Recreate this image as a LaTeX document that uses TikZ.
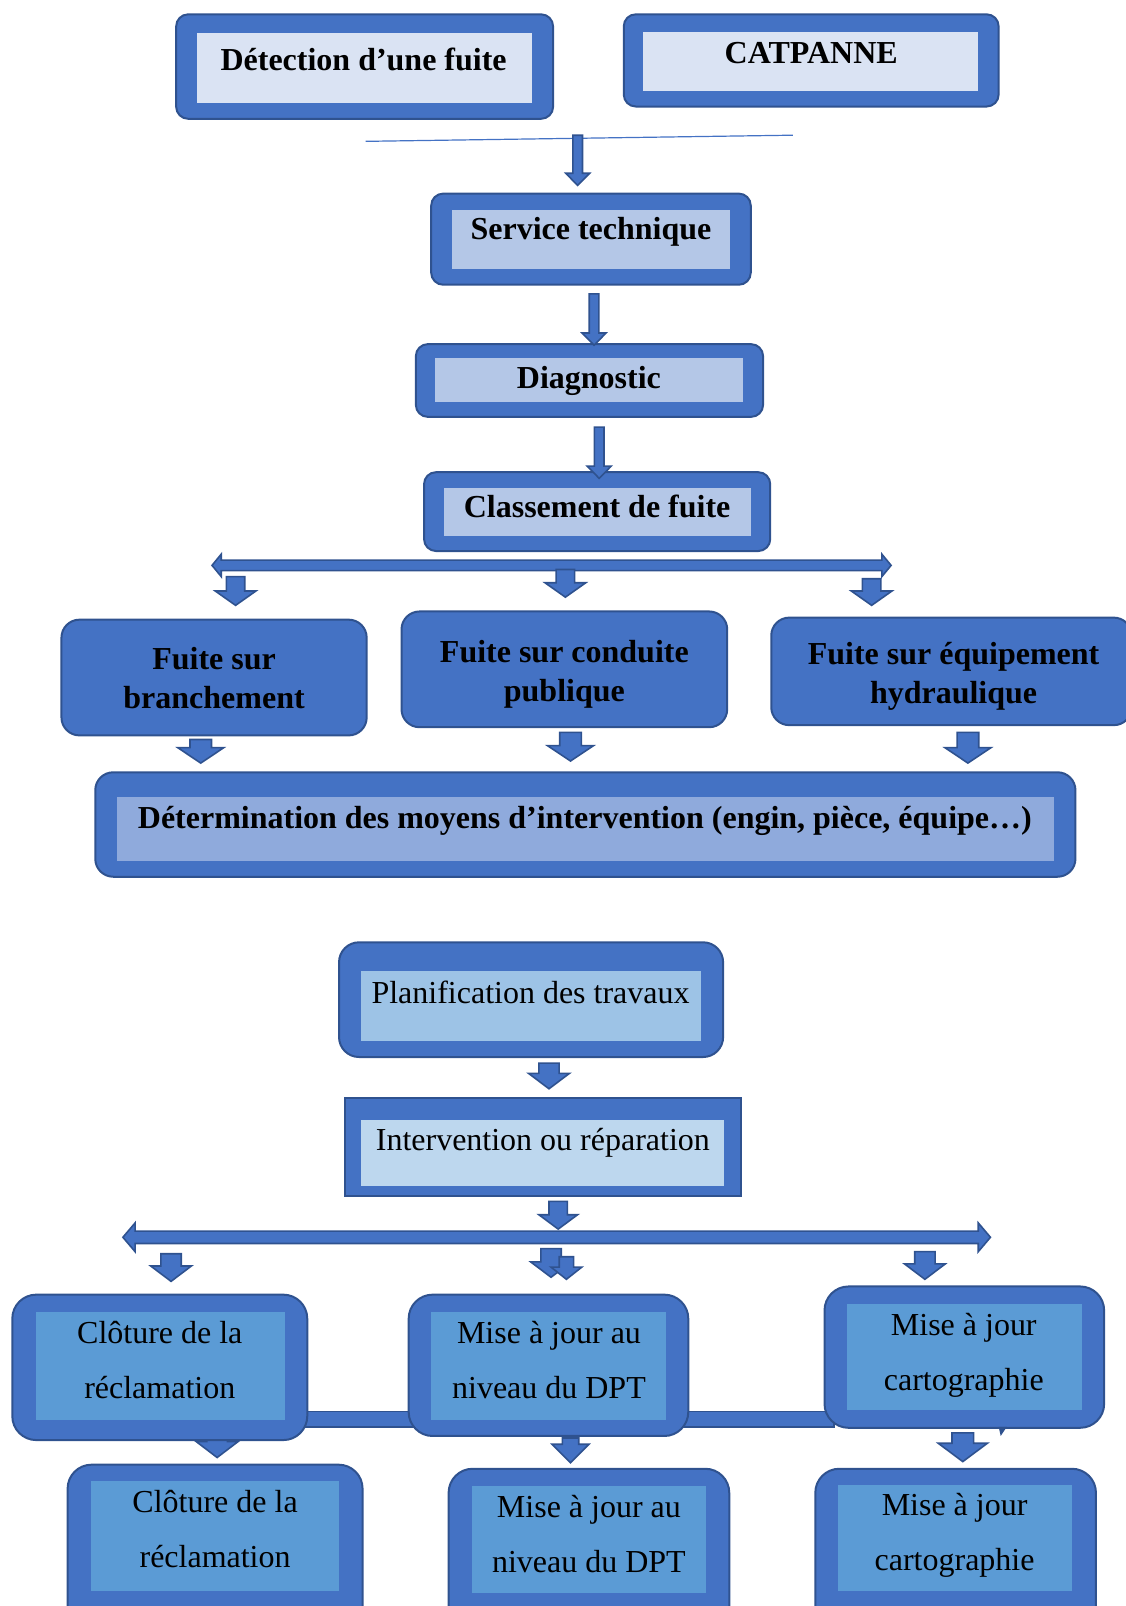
\documentclass[tikz,border=0pt]{standalone}
\usepackage{fontspec}
\setmainfont{Liberation Serif}
\usetikzlibrary{calc,fit}
\definecolor{boxblue}{HTML}{4472C4}
\definecolor{edge}{HTML}{2F528F}
\definecolor{pale}{HTML}{DAE3F3}
\definecolor{soft}{HTML}{B4C7E7}
\definecolor{mid}{HTML}{8FAADC}
\definecolor{sky}{HTML}{9DC3E6}
\definecolor{mist}{HTML}{BDD7EE}
\definecolor{deep}{HTML}{5B9BD5}
\pgfdeclarelayer{back}
\pgfsetlayers{back,main}
\tikzset{
  frame/.style={draw=edge, fill=boxblue, line width=1pt, rounded corners=#1, inner sep=0pt},
  frame/.default=6pt,
  pane/.style={fill=#1, inner sep=0pt},
  title/.style={font=\fontsize{16}{19.5}\selectfont\bfseries, align=center, inner sep=0pt},
  plain/.style={font=\fontsize{16}{27.7}\selectfont, align=center, inner sep=0pt},
  blk/.style={draw=edge, fill=boxblue, line width=0.8pt, line join=miter},
  rule/.style={draw=boxblue, line width=0.6pt}
}
% vertical block arrow: from, to, half shaft, half head, head length
\newcommand{\downblock}[5]{%
  \filldraw[blk] let \p1=(#1), \p2=(#2) in
    (\x1-#3,\y1) -- (\x1+#3,\y1) -- (\x1+#3,\y2+#5) -- (\x1+#4,\y2+#5)
    -- (\x1,\y2) -- (\x1-#4,\y2+#5) -- (\x1-#3,\y2+#5) -- cycle;}
% horizontal block arrow with two heads
\newcommand{\sideblock}[5]{%
  \filldraw[blk] let \p1=(#1), \p2=(#2) in
    (\x1,\y1) -- (\x1+#5,\y1+#4) -- (\x1+#5,\y1+#3) -- (\x2-#5,\y1+#3)
    -- (\x2-#5,\y1+#4) -- (\x2,\y1) -- (\x2-#5,\y1-#4) -- (\x2-#5,\y1-#3)
    -- (\x1+#5,\y1-#3) -- (\x1+#5,\y1-#4) -- cycle;}

\begin{document}
\begin{tikzpicture}[x=0.5123pt, y=-0.5123pt]
  \useasboundingbox (0,0) rectangle (1099,1568);

  \node[frame, fit={(172,14) (540,116)}] (detect) {};
  \node[pane=pale, fit={(192,32) (519,101)}] (detect-in) {};
  \node[title] (detect-t) at (355,58) {Détection d’une fuite};

  \node[frame, fit={(609,14) (975,104)}] (catp) {};
  \node[pane=pale, fit={(628,31) (955,89)}] (catp-in) {};
  \node[title] (catp-t) at (792,52) {CATPANNE};

  \coordinate (wire-l) at (357,138);
  \coordinate (wire-r) at (774,132);
  \draw[rule] (wire-l) -- (wire-r);

  \node[frame, fit={(421,189) (733,278)}] (serv) {};
  \node[pane=soft, fit={(441,205) (713,263)}] (serv-in) {};
  \node[title] (serv-t) at (577,226) {Service technique};

  \node[frame, fit={(406,336) (745,407)}] (diag) {};
  \node[pane=soft, fit={(425,350) (725,392)}] (diag-in) {};
  \node[title] (diag-t) at (575,372) {Diagnostic};

  \node[frame, fit={(414,461) (752,538)}] (class) {};
  \node[pane=soft, fit={(433,476) (733,523)}] (class-in) {};
  \node[title] (class-t) at (583,494) {Classement de fuite};

  \downblock{$(serv.north)+(-13,-56)$}{$(serv.north)+(0,-7)$}{2.4pt}{6pt}{6.1pt}
  \downblock{$(serv.south)+(3,8)$}{$(diag.north)+(0,2)$}{2.4pt}{6pt}{6.1pt}
  \downblock{$(diag.south)+(9.5,9)$}{$(class.north)+(0,7)$}{2.4pt}{6pt}{6.1pt}

  \coordinate (fork-l) at (207,552);
  \coordinate (fork-r) at (870,552);
  \sideblock{fork-l}{fork-r}{2.6pt}{5.6pt}{4.6pt}

  \node[frame=9pt, fit={(60,605) (358,718)}] (fb) {};
  \node[title] (fb-t) at (209,662) {Fuite sur\\branchement};
  \node[frame=9pt, fit={(392,597) (710,710)}] (fc) {};
  \node[title] (fc-t) at (551,658) {Fuite sur conduite\\publique};
  \node[frame=9pt, fit={(753,603) (1105,708)}] (fe) {};
  \node[title] (fe-t) at (931,660) {Fuite sur équipement\\hydraulique};

  \downblock{$(fb.north)+(21,-41)$}{$(fb.north)+(0,-13)$}{4.6pt}{10.2pt}{7.2pt}
  \downblock{$(fc.north)+(1,-40)$}{$(fc.north)+(0,-13)$}{4.6pt}{10.2pt}{7.2pt}
  \downblock{$(fe.north)+(-78,-37)$}{$(fe.north)+(0,-11)$}{4.6pt}{10.2pt}{7.2pt}

  \node[frame=9pt, fit={(93,754) (1050,856)}] (determ) {};
  \node[pane=mid, fit={(114,778) (1029,841)}] (determ-in) {};
  \node[title] (determ-t) at (571,801) {Détermination des moyens d’intervention (engin, pièce, équipe…)};

  \downblock{$(fb.south)+(-13,3)$}{$(determ.north)+(0,-8)$}{5.4pt}{11.5pt}{7.7pt}
  \downblock{$(fc.south)+(6,4)$}{$(determ.north)+(0,-10)$}{5.4pt}{11.5pt}{7.7pt}
  \downblock{$(fe.south)+(16,6)$}{$(determ.north)+(0,-8)$}{5.4pt}{11.5pt}{7.7pt}

  \node[frame=10pt, fit={(331,920) (706,1032)}] (plan) {};
  \node[pane=sky, fit={(352,948) (684,1016)}] (plan-in) {};
  \node[plain] (plan-t) at (518,969) {Planification des travaux};

  \node[frame=0pt, fit={(337,1072) (723,1168)}] (interv) {};
  \node[pane=mist, fit={(352,1093) (707,1158)}] (interv-in) {};
  \node[plain] (interv-t) at (530,1116) {Intervention ou réparation};

  \downblock{$(plan.south)+(17.5,5)$}{$(interv.north)+(0,-8)$}{5.1pt}{10.2pt}{7.7pt}

  \coordinate (join-l) at (120,1208);
  \coordinate (join-r) at (967,1208);
  \downblock{$(interv.south)+(15,4)$}{$(join-l)+(0,-8)$}{4.6pt}{9.7pt}{7.2pt}
  \sideblock{join-l}{join-r}{3.1pt}{7.2pt}{6.1pt}

  \node[frame=12pt, fit={(12,1264) (300,1406)}] (clo1) {};
  \node[pane=deep, fit={(35,1281) (278,1386)}] (clo1-in) {};
  \node[plain] (clo1-t) at (156,1328) {Clôture de la\\réclamation};

  \node[frame=12pt, fit={(399,1264) (672,1402)}] (dpt1) {};
  \node[pane=deep, fit={(421,1281) (650,1386)}] (dpt1-in) {};
  \node[plain] (dpt1-t) at (536,1328) {Mise à jour au\\niveau du DPT};

  \node[frame=12pt, fit={(805,1256) (1078,1394)}] (carto1) {};
  \node[pane=deep, fit={(827,1273) (1056,1377)}] (carto1-in) {};
  \node[plain] (carto1-t) at (941,1323) {Mise à jour\\cartographie};
  \fill[edge] (975,1393) -- (983,1393) -- (977,1402) -- cycle;

  \downblock{$(clo1.north)+(11,-39)$}{$(clo1.north)+(0,-12)$}{5.1pt}{10.2pt}{7.7pt}
  \downblock{$(dpt1.north)+(2.5,-44)$}{$(dpt1.north)+(0,-16)$}{5.1pt}{10.2pt}{7.7pt}
  \downblock{$(dpt1.north)+(17.5,-36)$}{$(dpt1.north)+(0,-14)$}{3.6pt}{7.7pt}{6.1pt}
  \downblock{$(carto1.north)+(-38.5,-33)$}{$(carto1.north)+(0,-6)$}{5.1pt}{10.2pt}{7.7pt}

  \node[frame=12pt, fit={(66,1430) (354,1600)}] (clo2) {};
  \node[pane=deep, fit={(89,1446) (331,1553)}] (clo2-in) {};
  \node[plain] (clo2-t) at (210,1493) {Clôture de la\\réclamation};

  \node[frame=12pt, fit={(438,1434) (712,1600)}] (dpt2) {};
  \node[pane=deep, fit={(461,1451) (689,1555)}] (dpt2-in) {};
  \node[plain] (dpt2-t) at (575,1498) {Mise à jour au\\niveau du DPT};

  \node[frame=12pt, fit={(796,1434) (1070,1600)}] (carto2) {};
  \node[pane=deep, fit={(818,1450) (1047,1553)}] (carto2-in) {};
  \node[plain] (carto2-t) at (932,1499) {Mise à jour\\cartographie};

  \downblock{$(dpt1.south)+(21.5,1)$}{$(dpt2.north)+(0,-5)$}{4.1pt}{9.2pt}{9.2pt}
  \downblock{$(carto1.south)+(-1.5,4)$}{$(carto2.north)+(0,-6)$}{5.4pt}{12.3pt}{9.2pt}

  \begin{pgfonlayer}{back}
    \filldraw[blk] ($(clo1.south east)+(-10,-14)$) rectangle ($(carto1.south west)+(10,-17)$);
    \downblock{$(clo1.south)+(56,-12)$}{$(clo2.north)+(0,-6)$}{5.1pt}{10.5pt}{8pt}
  \end{pgfonlayer}
\end{tikzpicture}
\end{document}
